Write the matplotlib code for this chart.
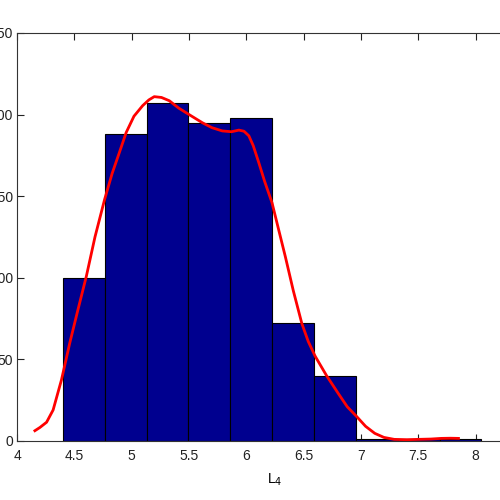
import numpy as np
import matplotlib
matplotlib.use("Agg")
import matplotlib.pyplot as plt

plt.rcParams['font.family'] = ['Liberation Sans', 'DejaVu Sans']

# Histogram data
bin_start = 4.40
bin_end = 8.05
counts = [100, 188, 207, 195, 198, 72, 40, 1, 1, 1]

# Density curve (scaled)
curve_x = [4.156, 4.2, 4.258, 4.315, 4.388, 4.46, 4.53, 4.605, 4.68, 4.764, 4.83, 4.894, 4.952,
           5.02, 5.096, 5.15, 5.197, 5.26, 5.328, 5.41, 5.501, 5.617, 5.70, 5.79, 5.87,
           5.935, 5.98, 6.022, 6.06, 6.108, 6.16, 6.224, 6.28, 6.34, 6.41, 6.484, 6.54,
           6.60, 6.70, 6.803, 6.88, 6.962, 7.04, 7.12, 7.20, 7.29, 7.40, 7.50, 7.61,
           7.70, 7.78, 7.85]
curve_y = [6.3, 8.3, 11.5, 19, 37.5, 60, 80, 101, 125, 148, 164, 177, 189,
           199, 205.5, 209, 211, 210.5, 208.5, 204, 200, 195, 192, 190, 189.5,
           190.5, 189.8, 187, 181, 170.7, 159, 146, 130, 113, 92, 72, 61,
           52, 40, 29, 21, 15, 9, 4.7, 2.2, 1, 0.8, 1, 1.2,
           1.6, 1.7, 1.6]

xticks = [4, 4.5, 5, 5.5, 6, 6.5, 7, 7.5, 8]
xtick_labels = ['4', '4.5', '5', '5.5', '6', '6.5', '7', '7.5', '8']
yticks = [0, 50, 100, 150, 200, 250]

fig = plt.figure(figsize=(5, 5), dpi=100)
ax = fig.add_axes([17/500, 59/500, (533-17)/500, (441-33)/500])

edges = np.linspace(bin_start, bin_end, len(counts) + 1)
ax.bar(edges[:-1], counts, width=np.diff(edges), align='edge',
       color=(0, 0, 0.5625), edgecolor='black', linewidth=0.8, zorder=2)
ax.plot(curve_x, curve_y, color='red', linewidth=2, zorder=3)

ax.set_xlim(4, 8.5)
ax.set_ylim(0, 250)
ax.set_xticks(xticks)
ax.set_xticklabels(xtick_labels)
ax.set_yticks(yticks)
ax.tick_params(direction='in', length=5, width=0.8, top=True, right=True,
               labelsize=10, colors='#222222')
ax.tick_params(axis='x', pad=6)
ax.tick_params(axis='y', pad=3)
for s in ax.spines.values():
    s.set_linewidth(0.8)
    s.set_color('#333333')
ax.set_xlabel(r'L$_4$', fontsize=10, labelpad=6)

fig.savefig('out.png', dpi=100)
